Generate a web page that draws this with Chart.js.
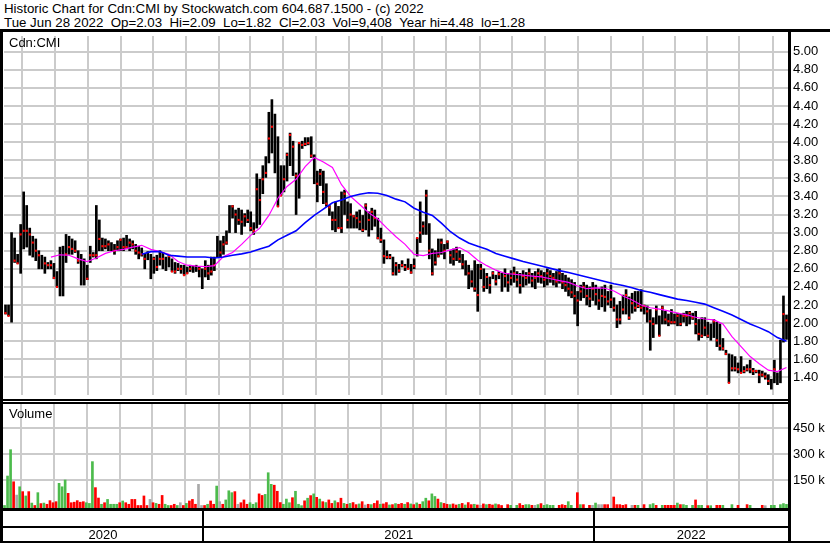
<!DOCTYPE html>
<html><head><meta charset="utf-8">
<script src="https://cdn.jsdelivr.net/npm/chart.js"></script>
<style>
html,body{margin:0;padding:0;background:#fff;}
body{width:830px;height:543px;position:relative;overflow:hidden;font-family:"Liberation Sans",Arial,sans-serif;color:#000;}
.t{position:absolute;font-size:13px;line-height:13px;white-space:pre;color:#000;}
.h{font-size:13.3px;}
.bk{position:absolute;background:#000;}
canvas{position:absolute;left:0;}
</style></head><body>
<div class="t h" style="left:4px;top:2px">Historic Chart for Cdn:CMI by Stockwatch.com 604.687.1500 - (c) 2022</div>
<div class="t h" style="left:4px;top:16px">Tue Jun 28 2022  Op=2.03  Hi=2.09  Lo=1.82  Cl=2.03  Vol=9,408  Year hi=4.48  lo=1.28</div>
<canvas id="pc" width="830" height="367" style="top:32px"></canvas>
<canvas id="vc" width="830" height="139" style="top:404px"></canvas>
<div class="t" style="left:9px;top:36px">Cdn:CMI</div>
<div class="t" style="left:9px;top:407px">Volume</div>
<div class="bk" style="left:0;top:29px;width:830px;height:3px"></div>
<div class="bk" style="left:0;top:29px;width:3px;height:514px"></div>
<div class="bk" style="left:788px;top:29px;width:3px;height:514px"></div>
<div class="bk" style="left:0;top:399px;width:791px;height:2px"></div>
<div class="bk" style="left:0;top:402px;width:791px;height:2px"></div>
<div class="bk" style="left:0;top:508px;width:791px;height:3px"></div>
<div class="bk" style="left:0;top:526px;width:791px;height:2px"></div>
<div class="bk" style="left:0;top:541px;width:830px;height:2px"></div>
<script>
// ---- data (each entry ~ 2 trading days, Jun 2020 - Jun 28 2022) ----
const hi = [2.20,2.20,3.00,2.94,2.76,3.09,3.45,3.30,3.05,2.96,2.93,2.80,2.75,2.73,2.67,2.69,2.66,2.57,2.84,2.85,2.98,2.96,2.93,2.91,2.80,2.76,2.71,2.64,2.85,2.78,3.30,3.14,2.94,
2.93,2.91,2.89,2.87,2.91,2.93,2.94,2.97,2.93,2.91,2.87,2.85,2.83,2.76,2.79,2.76,2.73,2.75,2.80,2.78,2.73,2.76,2.71,2.67,2.66,2.64,2.64,2.62,2.64,2.63,2.64,2.62,2.60,
2.69,2.64,2.73,2.73,2.96,2.91,2.96,3.02,3.30,3.30,3.25,3.27,3.25,3.21,3.25,3.23,3.11,3.65,3.59,3.74,3.84,4.33,4.47,4.31,4.06,3.74,3.74,3.88,4.10,4.01,3.66,3.99,4.01,
4.05,4.05,4.06,3.86,3.68,3.70,3.68,3.54,3.30,3.23,3.34,3.29,3.45,3.47,3.34,3.32,3.19,3.23,3.25,3.19,3.32,3.23,3.27,3.25,3.16,3.05,2.92,2.80,2.76,2.73,2.67,2.65,2.69,
2.65,2.71,2.65,2.71,2.94,3.34,3.12,3.47,3.10,2.82,2.80,2.93,2.93,2.87,2.91,2.80,2.82,2.84,2.80,2.76,2.69,2.64,2.58,2.69,2.65,2.65,2.60,2.55,2.51,2.57,2.53,2.57,2.55,
2.60,2.55,2.58,2.62,2.57,2.55,2.58,2.56,2.60,2.55,2.57,2.60,2.58,2.56,2.60,2.58,2.55,2.57,2.60,2.55,2.53,2.50,2.48,2.45,2.35,2.42,2.45,2.42,2.40,2.45,2.42,2.38,2.40,
2.42,2.35,2.42,2.28,2.20,2.24,2.31,2.37,2.29,2.33,2.35,2.35,2.37,2.20,2.19,2.15,2.06,2.19,2.08,2.19,2.13,2.10,2.15,2.10,2.11,2.10,2.11,2.13,2.13,2.11,2.13,2.04,2.06,
2.06,2.01,1.99,2.04,2.01,1.99,1.83,1.70,1.66,1.65,1.63,1.56,1.63,1.52,1.54,1.59,1.50,1.48,1.48,1.47,1.45,1.43,1.38,1.59,1.45,1.81,2.30,2.09];
const lo = [2.10,2.08,2.01,2.67,2.66,2.55,2.82,2.84,2.75,2.73,2.69,2.60,2.60,2.55,2.60,2.60,2.49,2.40,2.30,2.30,2.67,2.76,2.76,2.78,2.66,2.42,2.42,2.48,2.67,2.73,2.71,2.80,2.80,
2.82,2.80,2.80,2.76,2.80,2.80,2.80,2.82,2.80,2.82,2.76,2.71,2.74,2.60,2.70,2.49,2.55,2.58,2.64,2.60,2.58,2.62,2.57,2.55,2.58,2.55,2.53,2.55,2.57,2.56,2.57,2.51,2.38,
2.51,2.48,2.53,2.58,2.73,2.73,2.76,2.87,3.00,3.16,3.00,3.09,2.98,3.07,3.11,3.02,2.98,3.05,3.09,3.43,3.61,3.77,3.88,3.66,3.29,3.41,3.45,3.57,3.74,3.63,3.20,3.38,3.93,
3.96,3.97,3.83,3.54,3.34,3.52,3.32,3.29,3.19,3.03,3.01,3.05,3.00,3.20,3.05,3.05,3.05,3.05,3.03,3.01,3.03,2.96,3.03,3.07,2.93,2.89,2.66,2.71,2.71,2.53,2.53,2.56,2.62,
2.58,2.60,2.55,2.60,2.74,2.89,2.98,2.98,2.71,2.53,2.64,2.73,2.76,2.71,2.82,2.66,2.64,2.69,2.67,2.60,2.53,2.38,2.40,2.35,2.13,2.49,2.35,2.38,2.33,2.49,2.42,2.49,2.35,
2.40,2.35,2.42,2.45,2.40,2.33,2.40,2.42,2.44,2.40,2.38,2.45,2.44,2.40,2.42,2.45,2.42,2.40,2.44,2.38,2.35,2.30,2.28,2.10,1.97,2.25,2.28,2.20,2.18,2.25,2.20,2.15,2.18,
2.13,2.20,2.17,2.13,1.95,1.99,2.10,2.10,2.04,2.11,2.13,2.17,2.13,2.10,2.01,1.70,1.84,1.99,1.86,1.99,1.99,1.97,1.99,1.99,1.97,1.97,2.01,1.97,1.99,2.04,1.88,1.81,1.84,
1.86,1.84,1.81,1.84,1.74,1.70,1.70,1.65,1.34,1.47,1.47,1.45,1.45,1.45,1.47,1.45,1.43,1.45,1.34,1.41,1.38,1.32,1.27,1.34,1.32,1.34,1.79,1.82];
const cl = [2.11,2.08,null,2.69,2.66,2.98,3.02,3.02,2.98,2.89,2.80,2.75,null,2.66,2.64,2.64,2.50,2.40,null,null,2.76,2.84,2.82,2.80,2.69,null,null,2.49,2.75,2.75,2.75,2.93,2.85,
2.85,2.87,null,2.80,2.84,2.92,2.84,2.84,2.89,2.87,2.80,2.78,2.76,2.71,null,null,2.71,2.62,2.71,2.71,null,2.74,2.57,2.57,2.60,2.60,2.53,2.55,2.60,null,null,2.60,null,
2.60,2.55,2.57,2.64,null,2.78,2.87,2.89,null,3.29,3.20,3.14,3.12,3.18,3.14,3.05,3.02,3.48,3.36,3.59,3.66,4.04,4.17,null,3.29,3.41,3.59,3.86,4.08,3.95,3.63,3.99,3.97,
3.98,3.99,3.85,null,3.54,3.65,3.45,3.32,3.28,3.14,3.14,3.05,3.05,3.43,3.14,3.20,3.18,3.16,3.12,3.03,3.30,3.14,3.23,3.16,2.94,2.92,2.74,2.73,2.73,2.55,2.64,2.58,2.64,
2.62,2.60,2.56,2.63,2.94,3.00,3.07,3.41,2.80,2.55,2.67,2.74,2.89,2.80,2.90,2.75,2.71,2.79,2.71,2.65,null,2.55,2.46,2.38,2.31,2.60,2.40,2.51,2.42,2.55,2.46,2.54,null,
2.52,2.45,2.50,2.55,2.48,2.42,2.52,2.50,2.55,2.47,2.50,2.55,2.52,2.48,2.55,2.52,2.50,2.46,2.55,2.45,2.42,2.38,2.34,2.30,2.25,2.35,2.40,2.30,2.27,2.38,2.32,2.25,2.30,
2.29,2.24,2.26,2.17,2.04,2.04,2.15,2.31,2.06,2.22,2.17,2.19,2.17,2.19,2.13,2.02,1.99,2.15,1.86,2.17,2.04,2.02,2.01,2.01,2.08,1.99,2.08,2.08,2.11,2.06,1.99,1.88,1.86,
1.95,1.86,null,2.02,1.81,1.75,1.72,1.66,1.34,1.50,1.50,1.49,1.45,1.47,1.49,1.49,1.47,1.47,1.43,1.43,1.41,1.36,null,1.49,null,null,2.10,2.03];
// volume in thousands, and direction of the day (1 up, -1 down, 0 unchanged)
const volK = [3,173,325,140,63,111,83,58,83,17, 3,77,14,17,10,31,19,25,131,111, 150,73,19,22,31,22,25,19,15,256,
106,46,10,19,38,10,10,10,19,29, 19,10,38,38,3,3,58,3,38,19, 15,10,61,10,3,3,10,3,19,3, 15,29,38,10,125,3,3,10,29,10,
115,25,10,35,88,77,83,10,19,35, 10,19,10,19,70,61,67,192,125,120, 85,20,10,40,19,48,85,10,2,
30,45,60,70,50,40,25, 20,35,15,30,20,45,15, 10,15,20,8,12,25,6,10,8,15,30,10,12,20,6,8,14,10,
15,10,20,12,8,18,10,25,45,30, 70,55,40,20,15,10, 8,12,6,10,15,6,20,8,10,6,4,12,8,10,6,12,8,
3,null,8,4,null,4,14,4,8,8, 4,4,8,14,4,8,4,4,null,4, 8,4,25,4,null,77,8,8,null,4, 4,17,8,8,8,8,null,52,8,8,
4,8,null,4,4,4,null,8,null,8, 14,4,null,4,4,4,4,4,17,8, 8,4,null,4,35,4,4,null,2,2, null,4,4,4,null,null,8,null,4,null,
null,8,4,null,null,null,4,2,null,4, 4,null,8,14,9.4];
const volDir = [1,1,1,-1,0,1,-1,1,-1,1, -1,1,-1,1,-1,-1,-1,-1,1,1, 1,-1,-1,-1,-1,-1,-1,1,1,1,
-1,-1,1,-1,1,1,1,1,-1,1, -1,-1,-1,-1,-1,-1,-1,-1,0,-1, 1,-1,-1,1,1,-1,-1,1,0,-1, 1,-1,-1,-1,0,0,-1,1,-1,-1,
1,0,-1,1,1,1,-1,0,-1,-1, -1,1,1,1,-1,-1,1,1,1,-1, -1,-1,1,1,1,-1,1,1,1,
-1,1,-1,1,-1,1,-1, 1,-1,-1,1,-1,-1,1, -1,1,-1,-1,1,-1,0,-1,1,-1,-1,1,-1,-1,1,-1,1,-1,
-1,1,-1,1,-1,1,-1,1,1,-1, 1,1,-1,1,-1,-1, 1,-1,-1,1,-1,1,-1,-1,1,-1,0,-1,1,-1,-1,1,-1,
-1,-1,-1,1,1,1,-1,-1,1,1, -1,0,1,-1,1,1,1,1,-1,-1, -1,-1,1,1,-1,-1,1,-1,-1,-1, 0,1,0,0,-1,-1,-1,-1,-1,-1,
-1,-1,-1,0,-1,1,-1,-1,-1,1, 1,-1,-1,1,-1,-1,-1,-1,1,-1, 1,1,-1,1,-1,1,1,-1,-1,1, -1,-1,-1,1,-1,-1,1,-1,-1,-1,
-1,-1,1,-1,-1,-1,-1,0,-1,1, 1,-1,1,1,1];
// moving averages read every 3rd bar
const MA_STEP = 3;
const maShort = [null,null,null,null,null,2.73,2.755,2.75,2.71,2.68, 2.72,2.77,2.80,2.815,2.84,2.86,2.815,2.79,2.76,2.68,
2.64,2.63,2.625,2.635,2.735,2.78,2.87,2.97,3.05,3.19, 3.38,3.51,3.59,3.73,3.83,3.78,3.72,3.53,3.40,3.31,
3.22,3.15,3.05,2.955,2.87,2.76,2.745,2.77,2.78,2.81, 2.835,2.78,2.695,2.635,2.585,2.55,2.54,2.53,2.52,2.51,
2.49,2.47,2.45,2.41,2.38,2.39,2.385,2.355,2.30,2.255, 2.20,2.17,2.155,2.135,2.11,2.09,2.065,2.045,2.035,1.99,
1.85,1.74,1.63,1.55,1.48,1.465,1.51];
const maLong = [null,null,null,null,null,null,null,null,null,null, null,null,null,null,null,2.76,2.79,2.79,2.75,2.74,
2.73,2.73,2.73,2.72,2.73,2.75,2.765,2.785,2.82,2.85, 2.92,2.97,3.02,3.11,3.19,3.26,3.33,3.36,3.40,3.425,
3.44,3.435,3.41,3.37,3.34,3.27,3.225,3.19,3.105,3.01, 2.94,2.885,2.85,2.815,2.77,2.74,2.71,2.68,2.655,2.63,
2.605,2.58,2.56,2.535,2.51,2.485,2.46,2.435,2.415,2.39, 2.36,2.34,2.315,2.29,2.265,2.25,2.23,2.21,2.17,2.13,
2.09,2.04,1.99,1.95,1.905,1.84,1.80];
// axis data
const priceTicks = [1.40,1.60,1.80,2.00,2.20,2.40,2.60,2.80,3.00,3.20,3.40,3.60,3.80,4.00,4.20,4.40,4.60,4.80,5.00];
const volTicksK = [150,300,450];
const monthBounds = [10.95,21.77,32.82,43.21,53.94,65.48,75.81,85.94,97.17,108.0,118.9,129.8,140.05,151.3,162.15,172.7,183.8,194.6,205.5,215.4,226.7,236.9,248.0];
const yearBounds = [65.48,194.6];
const yearLabels = ['2020','2021','2022'];

// ---- drawing ----
const N = hi.length;
const FONT = '"Liberation Sans", Arial, sans-serif';
const GRID = '#cbcbcb';
const P_MIN = 1.2054, P_MAX = 5.173;
const V_MIN = -11.5, V_MAX = 588.5;

const rangePts = hi.map((h,i)=>({x:i, y:[lo[i], h]}));
const closePts = cl.map((c,i)=> c==null?null:{x:i,y:c}).filter(Boolean);
const shortPts = maShort.map((v,i)=> v==null?null:{x:i*MA_STEP,y:v}).filter(Boolean);
const longPts = maLong.map((v,i)=> v==null?null:{x:i*MA_STEP,y:v}).filter(Boolean);

function zeroPad(s){ s.paddingTop=0; s.paddingBottom=0; s.paddingLeft=0; s.paddingRight=0; }
const xScale = () => ({
  type:'linear', min:-0.5, max:N-0.5, offset:false,
  afterBuildTicks: s => { s.ticks = monthBounds.map(v=>({value:v})); },
  afterFit: s => { s.height = 0; zeroPad(s); },
  ticks:{display:false},
  grid:{color:GRID, lineWidth:2, drawTicks:false},
  border:{display:false}
});

new Chart(document.getElementById('pc'), {
  type:'bar',
  data:{datasets:[
    {type:'line', data:longPts, borderColor:'#0000ff', borderWidth:1.6, pointRadius:0, order:0},
    {type:'line', data:shortPts, borderColor:'#ff00ff', borderWidth:1.2, pointRadius:0, order:1},
    {type:'line', data:closePts, showLine:false, pointStyle:'rect', pointRadius:1.5, pointBorderWidth:0, pointBackgroundColor:'#ff0000', order:2},
    {type:'bar', data:rangePts, backgroundColor:'#000000', barThickness:2, order:3}
  ]},
  options:{
    responsive:false, animation:false, devicePixelRatio:1,
    layout:{padding:{left:3,right:0,top:0,bottom:0}},
    plugins:{legend:{display:false}, tooltip:{enabled:false}},
    scales:{
      x: xScale(),
      y:{position:'right', min:P_MIN, max:P_MAX,
        afterBuildTicks: s => { s.ticks = priceTicks.map(v=>({value:v})); },
        afterFit: s => { s.width = 42; zeroPad(s); },
        ticks:{padding:5, autoSkip:false, color:'#000', font:{size:13, family:FONT}, callback:v=>Number(v).toFixed(2)},
        grid:{color:GRID, lineWidth:2, drawTicks:false},
        border:{display:false}}
    }
  }
});

const yearPlugin = {
  id:'yearRow',
  afterDraw(chart){
    const ctx = chart.ctx, xs = chart.scales.x;
    ctx.save();
    ctx.fillStyle = '#000';
    yearBounds.forEach(b => {
      const px = Math.round(xs.getPixelForValue(b));
      ctx.fillRect(px-1, 106, 2, 33);
    });
    ctx.font = '13px ' + FONT;
    ctx.textAlign = 'center';
    ctx.textBaseline = 'alphabetic';
    const edges = [xs.min].concat(yearBounds, [xs.max]);
    yearLabels.forEach((lab,i) => {
      const c = (edges[i] + edges[i+1]) / 2;
      ctx.fillText(lab, xs.getPixelForValue(c), 134.5);
    });
    ctx.restore();
  }
};
const volColor = d => d > 0 ? '#4cbb4c' : (d < 0 ? '#ff0000' : '#a9a9a9');

new Chart(document.getElementById('vc'), {
  type:'bar',
  data:{datasets:[{
    data: volK.map((v,i)=>({x:i, y:v})),
    backgroundColor: volDir.map(volColor),
    barThickness:2, base:V_MIN
  }]},
  options:{
    responsive:false, animation:false, devicePixelRatio:1,
    layout:{padding:{left:3,right:0,top:0,bottom:35}},
    plugins:{legend:{display:false}, tooltip:{enabled:false}},
    scales:{
      x: xScale(),
      y:{position:'right', min:V_MIN, max:V_MAX,
        afterBuildTicks: s => { s.ticks = volTicksK.map(v=>({value:v})); },
        afterFit: s => { s.width = 42; zeroPad(s); },
        ticks:{padding:5, autoSkip:false, color:'#000', font:{size:13, family:FONT}, callback:v=>v + ' k'},
        grid:{color:GRID, lineWidth:2, drawTicks:false},
        border:{display:false}}
    }
  },
  plugins:[yearPlugin]
});
</script>
</body></html>
